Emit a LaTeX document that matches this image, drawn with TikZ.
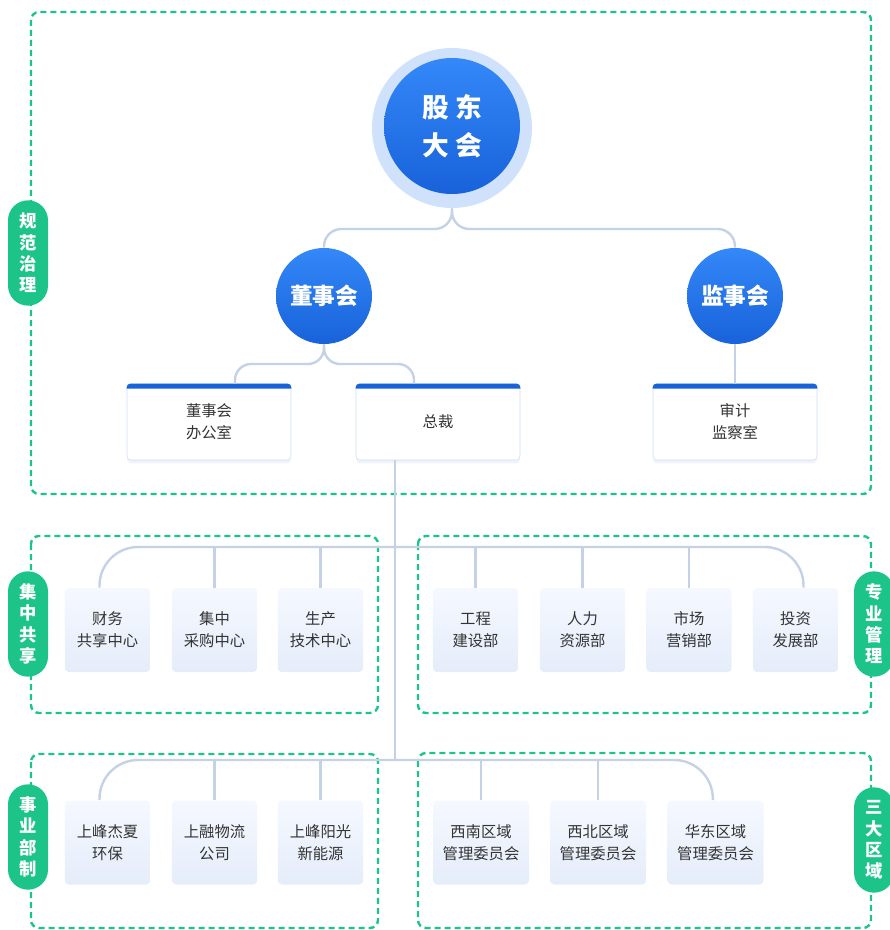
\documentclass[tikz,border=0pt]{standalone}
\usepackage{fontspec}
\setmainfont{Noto Sans CJK SC}
\usetikzlibrary{shadows}
\definecolor{orgblue}{RGB}{24,98,218}
\definecolor{orgbluetop}{RGB}{52,136,248}
\definecolor{orgring}{RGB}{208,226,251}
\definecolor{orggreen}{RGB}{29,196,138}
\definecolor{orgline}{RGB}{197,210,230}
\definecolor{orgtext}{RGB}{51,51,51}
\definecolor{orgboxtop}{RGB}{245,248,255}
\definecolor{orgboxbot}{RGB}{229,237,250}
\definecolor{orgedge}{RGB}{208,222,246}

\tikzset{
  conn/.style={orgline, line width=1.8pt},
  zone/.style={orggreen, line width=1.8pt, dash pattern=on 4.5pt off 3pt, rounded corners=6pt},
  pill/.style={fill=orggreen, rounded corners=15pt, minimum width=30pt, minimum height=79pt,
    inner sep=0pt, text=white, align=center, font=\bfseries\fontsize{13}{16}\selectfont},
  bigdot/.style={circle, top color=orgbluetop, bottom color=orgblue, text=white, inner sep=0pt, align=center},
  headbox/.style={fill=white, draw=orgedge, line width=0.4pt, rounded corners=3pt,
    minimum width=123pt, minimum height=57pt, text=orgtext, align=center,
    font=\fontsize{11.5}{16.5}\selectfont,
    drop shadow={shadow xshift=0pt, shadow yshift=-2.5pt, fill=orgedge, opacity=0.35}},
  unitbox/.style={rounded corners=3pt, top color=orgboxtop, bottom color=orgboxbot,
    minimum width=64pt, minimum height=63pt, text=orgtext, align=center,
    font=\fontsize{11.5}{16.5}\selectfont},
}

\begin{document}
\begin{tikzpicture}[x=0.75pt, y=-0.75pt]
\useasboundingbox (0,0) rectangle (889,930);

% Zones
\draw[zone] (31,12) rectangle (871,494);
\draw[zone] (31,536) rectangle (378,713);
\draw[zone] (418,536) rectangle (871,713);
\draw[zone] (31,754) rectangle (378,928);
\draw[zone] (418,753) rectangle (871,928);

% Zone labels
\node[pill] (gfzl) at (28,253) {规\\范\\治\\理};
\node[pill] (jzgx) at (28,624) {集\\中\\共\\享};
\node[pill] (zygl) at (874,624) {专\\业\\管\\理};
\node[pill] (sybz) at (28,837) {事\\业\\部\\制};
\node[pill] (sdqy) at (874,840) {三\\大\\区\\域};

% Governance
\node[circle, fill=orgring, minimum size=120pt, inner sep=0pt] (gdring) at (452,128) {};
\node[bigdot, minimum size=102pt, font=\bfseries\fontsize{20}{28.5}\selectfont] (gd) at (452,126)
  {股\hspace{0.25em}东\\大\hspace{0.25em}会};
\node[bigdot, minimum size=72pt, font=\bfseries\fontsize{17}{20}\selectfont] (dsh) at (324,296) {董事会};
\node[bigdot, minimum size=72pt, font=\bfseries\fontsize{17}{20}\selectfont] (jsh) at (735,296) {监事会};

\node[headbox] (dshbgs) at (209,422) {董事会\\办公室};
\node[headbox] (zc) at (438,422) {总裁};
\node[headbox] (sjjcs) at (735,422) {审计\\监察室};
\foreach \b in {dshbgs,zc,sjjcs} {
    \fill[orgblue] ([yshift=-3.75pt]\b.north west) [rounded corners=2.5pt] -- (\b.north west)
      -- (\b.north east) [sharp corners] -- ([yshift=-3.75pt]\b.north east) -- cycle;
}

% Shared and professional
\foreach \x/\name/\txt in {107.5/cw/{财务\\共享中心}, 214.5/cg/{集中\\采购中心}, 320.5/sc/{生产\\技术中心},
    475.5/gc/{工程\\建设部}, 582.5/rl/{人力\\资源部}, 689/yx/{市场\\营销部}, 795.5/tz/{投资\\发展部}} {
    \node[unitbox] (\name) at (\x,630) {\txt};
}

% Business units and regions
\foreach \x/\name/\txt in {107.5/jx/{上峰杰夏\\环保}, 214.5/rw/{上融物流\\公司}, 320.5/yg/{上峰阳光\\新能源}} {
    \node[unitbox] (\name) at (\x,842.5) {\txt};
}
\foreach \x/\name/\txt in {481/xn/{西南区域\\管理委员会}, 598/xb/{西北区域\\管理委员会}, 715.5/hd/{华东区域\\管理委员会}} {
    \node[unitbox, minimum width=72pt] (\name) at (\x,842.5) {\txt};
}

% Connectors
\coordinate (split) at (452,229);
\draw[conn, rounded corners=13pt] (gdring.south) -- (split) -| (dsh.north);
\draw[conn, rounded corners=13pt] (gdring.south) -- (split) -| (jsh.north);
\coordinate (split2) at (324,364);
\draw[conn, rounded corners=12pt] (dsh.south) -- (split2) -| ([xshift=19.5pt]dshbgs.north);
\draw[conn, rounded corners=12pt] (dsh.south) -- (split2) -| ([xshift=-18pt]zc.north);
\draw[conn] (jsh.south) -- (sjjcs.north);

\coordinate (zcfoot) at ([xshift=-32.25pt]zc.south);
\coordinate (midbar) at (395,547);
\coordinate (lowbar) at (395,760);
\draw[conn] (zcfoot) -- (lowbar);
\draw[conn, rounded corners=29pt] ([xshift=-6pt]cw.north) |- (midbar) -| ([xshift=6pt]tz.north);
\foreach \n in {cg,sc,gc,rl,yx} {
    \draw[conn] (\n.north) -- (\n.north |- midbar);
}
\draw[conn, rounded corners=29pt] ([xshift=-6pt]jx.north) |- (lowbar) -| ([xshift=-2pt]hd.north);
\foreach \n in {rw,yg,xn,xb} {
    \draw[conn] (\n.north) -- (\n.north |- lowbar);
}
\end{tikzpicture}
\end{document}
